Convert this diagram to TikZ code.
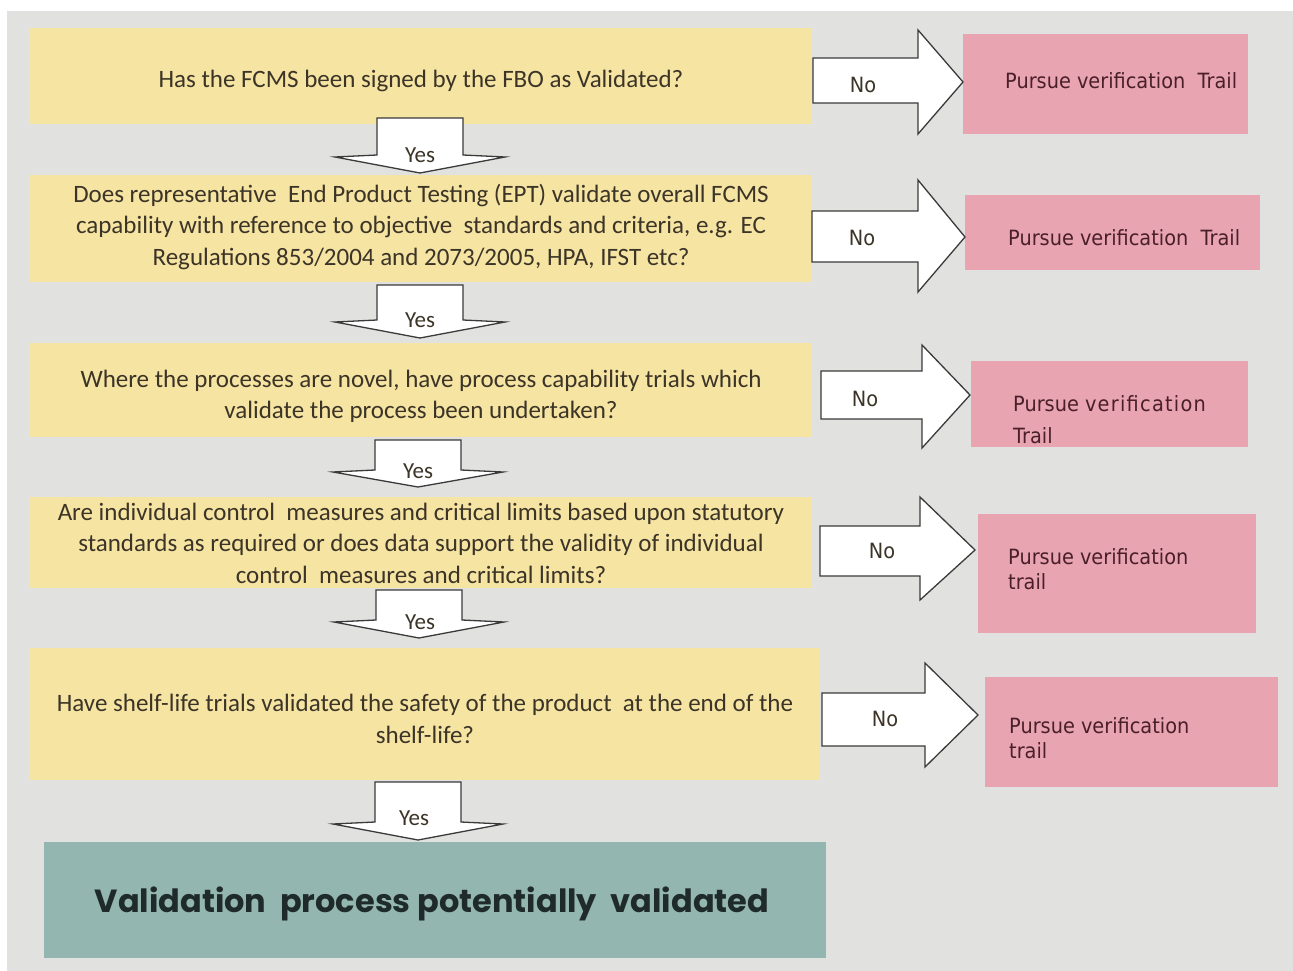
\documentclass[tikz,border=0pt]{standalone}
\usepackage{fontspec}
\setmainfont{Carlito}
\newfontfamily\trailfont[FakeStretch=0.92]{DejaVu Sans}
\newfontfamily\endfont{Poppins}
\usetikzlibrary{calc}

\definecolor{bggray}{HTML}{E1E1DF}
\definecolor{qyellow}{HTML}{F6E4A3}
\definecolor{trailpink}{HTML}{E8A4B1}
\definecolor{endteal}{HTML}{94B6B1}
\definecolor{qtext}{HTML}{3B3427}
\definecolor{ptext}{HTML}{4A1F2A}
\definecolor{arrowline}{HTML}{3A3A3A}
\definecolor{endtext}{HTML}{1F2B2B}

\tikzset{
  question/.style={rectangle, fill=qyellow, inner sep=0pt, minimum width=782pt},
  qtextstyle/.style={inner sep=0pt, text=qtext, align=center,
    font=\fontsize{25}{31.5}\selectfont},
  trailbox/.style={rectangle, fill=trailpink, inner sep=0pt},
  trailtext/.style={anchor=west, inner sep=0pt, text=ptext, align=left,
    font=\trailfont\fontsize{21}{25}\selectfont},
  blockarrow/.style={draw=arrowline, fill=white, line width=1.3pt, line join=miter},
  yeslabel/.style={inner sep=0pt, text=qtext, font=\fontsize{23}{26}\selectfont},
  nolabel/.style={inner sep=0pt, text=qtext, font=\trailfont\fontsize{21}{24}\selectfont},
  endbox/.style={rectangle, fill=endteal, inner sep=0pt},
  endtextstyle/.style={inner sep=0pt, text=endtext,
    font=\endfont\bfseries\fontsize{32}{38}\selectfont}
}

% downward "Yes" arrow: centre x, shaft top, wing y, tip y
\newcommand\yesarrow[4]{%
  \draw[blockarrow] (#1-43,#2) -- (#1+43,#2) -- (#1+43,#3-2) -- (#1+85,#3)
    -- (#1,#4) -- (#1-85,#3) -- (#1-43,#3-2) -- cycle;}
% rightward "No" arrow: shaft left x, shaft top y, shaft bottom y,
% head x, head top y, head bottom y, tip x, tip y
\newcommand\noarrow[8]{%
  \draw[blockarrow] (#1,#2) -- (#4,#2) -- (#4,#5) -- (#7,#8) -- (#4,#6)
    -- (#4,#3) -- (#1,#3) -- cycle;}

\begin{document}
\begin{tikzpicture}[x=1pt,y=-1pt]
\useasboundingbox (0,0) rectangle (1293,971);
\fill[white] (0,0) rectangle (1293,971);
\fill[bggray] (7,11) rectangle (1293,971);

% question boxes
\node[question, minimum height=96pt] (q1) at (421,76) {};
\node[qtextstyle] (q1t) at (421,81)
  {Has the FCMS been signed by the FBO as Validated?};
\node[question, minimum height=107pt] (q2) at (421,228.5) {};
\node[qtextstyle] (q2t) at (421,227)
  {Does representative\ \ End Product Testing (EPT) validate overall FCMS\\
   capability with reference to objective\ \ standards and criteria, e.g. EC\\
   Regulations 853/2004 and 2073/2005, HPA, IFST etc?};
\node[question, minimum height=94pt] (q3) at (421,390) {};
\node[qtextstyle] (q3t) at (421,396.5)
  {Where the processes are novel, have process capability trials which\\
   validate the process been undertaken?};
\node[question, minimum height=91pt] (q4) at (421,542.5) {};
\node[qtextstyle] (q4t) at (421,543)
  {Are individual control\ \ measures and critical limits based upon statutory\\
   standards as required or does data support the validity of individual\\
   control\ \ measures and critical limits?};
\node[question, minimum width=790pt, minimum height=132pt] (q5) at (425,714) {};
\node[qtextstyle] (q5t) at (425,719)
  {Have shelf-life trials validated the safety of the product\ \ at the end of the\\
   shelf-life?};

% final outcome
\node[endbox, minimum width=782pt, minimum height=116pt] (fin) at (435,900) {};
\node[endtextstyle] (fint) at (432,904)
  {Validation\ \ process potentially\ \ validated};

% verification trail boxes
\node[trailbox, minimum width=285pt, minimum height=100pt] (p1) at (1105.5,84) {};
\node[trailbox, minimum width=295pt, minimum height=75pt] (p2) at (1112.5,232.5) {};
\node[trailbox, minimum width=277pt, minimum height=86pt] (p3) at (1109.5,404) {};
\node[trailbox, minimum width=278pt, minimum height=119pt] (p4) at (1117,573.5) {};
\node[trailbox, minimum width=293pt, minimum height=110pt] (p5) at (1131.5,732) {};

\node[trailtext] (p1t) at (1005,81) {Pursue verification\ \ Trail};
\node[trailtext] (p2t) at (1008,238) {Pursue verification\ \ Trail};
\node[trailtext, font=\trailfont\fontsize{21}{32}\selectfont] (p3t) at (1013,420)
  {Pursue {\addfontfeature{LetterSpace=6}verification}\\Trail};
\node[trailtext] (p4t) at (1008,569) {Pursue verification\\trail};
\node[trailtext] (p5t) at (1009,738) {Pursue verification\\trail};

% "No" arrows
\noarrow{813}{58}{103}{918}{30}{134}{963}{82}
\noarrow{812}{211}{262}{918}{180}{292}{965}{237}
\noarrow{821}{371}{419}{922}{345}{448}{970}{395}
\noarrow{820}{526}{576}{920}{497}{600}{975}{550}
\noarrow{822}{693}{746}{925}{663}{767}{978}{715}
\node[nolabel] (n1) at (863,85) {No};
\node[nolabel] (n2) at (862,238) {No};
\node[nolabel] (n3) at (865,399) {No};
\node[nolabel] (n4) at (882,551) {No};
\node[nolabel] (n5) at (885,719) {No};

% "Yes" arrows
\yesarrow{420}{118}{157}{173}
\yesarrow{420}{285}{322}{338}
\yesarrow{418}{440}{472}{487}
\yesarrow{419}{590}{622}{638}
\yesarrow{418}{782}{824}{840}
\node[yeslabel] (y1) at (420,155) {Yes};
\node[yeslabel] (y2) at (420,320) {Yes};
\node[yeslabel] (y3) at (418,471) {Yes};
\node[yeslabel] (y4) at (420,622) {Yes};
\node[yeslabel] (y5) at (414,818) {Yes};
\end{tikzpicture}
\end{document}
